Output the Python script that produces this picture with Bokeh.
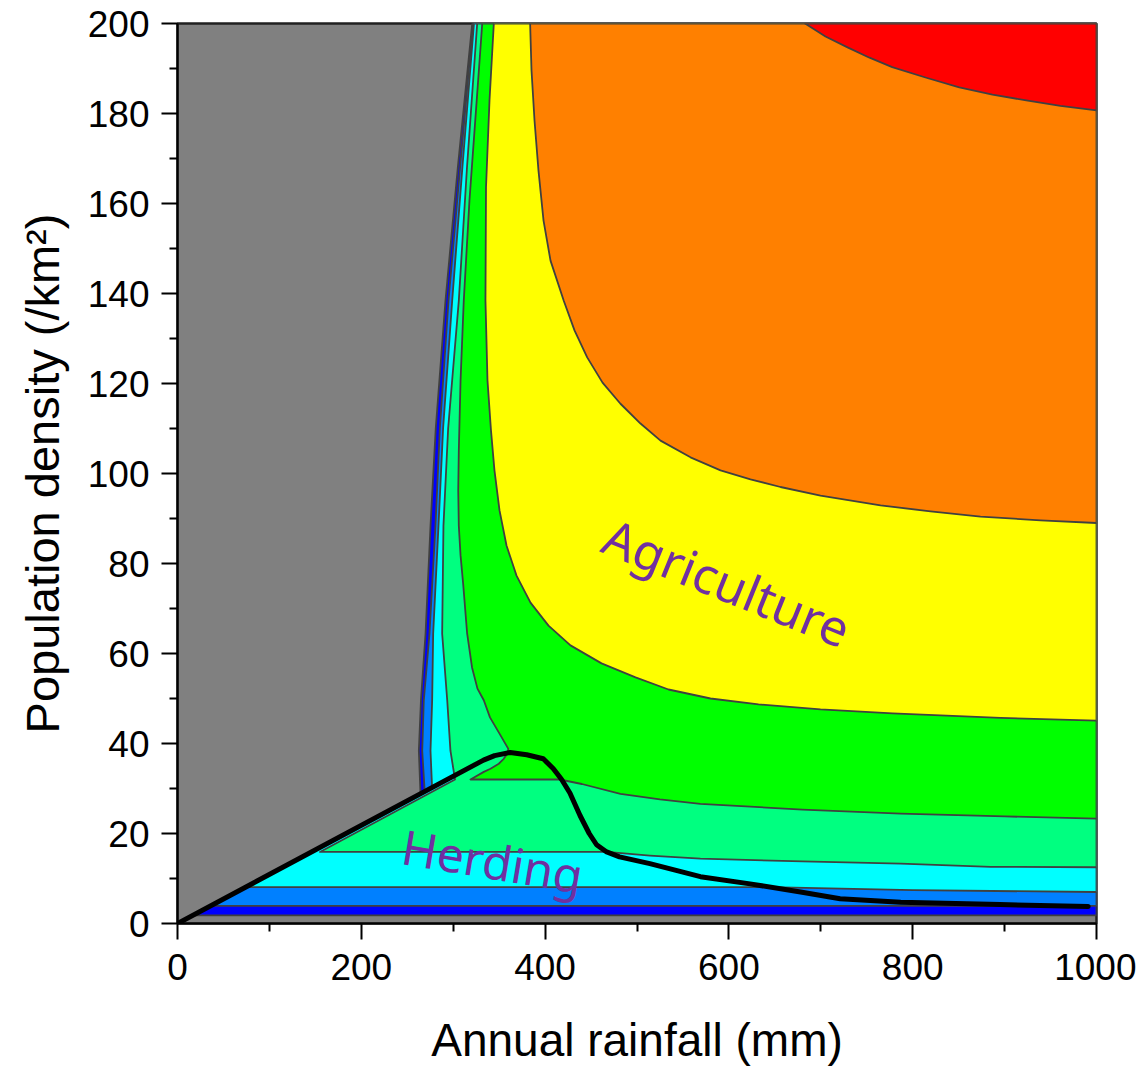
import numpy as np
from bokeh.plotting import figure
from bokeh.models import Range1d, FixedTicker
from bokeh.embed import file_html
from bokeh.resources import INLINE
from bokeh.core.properties import value

# ---- axis extents and ticks ----
X_MAX = 1000
Y_MAX = 200
x_major = [0, 200, 400, 600, 800, 1000]
x_minor = [100, 300, 500, 700, 900]
y_major = [0, 20, 40, 60, 80, 100, 120, 140, 160, 180, 200]
y_minor = [10, 30, 50, 70, 90, 110, 130, 150, 170, 190]

# ---- contour band colours (low -> high) ----
background_gray = "#808080"
band_colors = ["#0000FF", "#0080FF", "#00FFFF", "#00FF80",
               "#00FF00", "#FFFF00", "#FF8000", "#FF0000"]

# ---- lower/left boundary of each band (from top edge to right edge) ----
blue_x = [320.7, 305.0, 291.6, 281.0, 275.3, 269.9, 265.0, 262.6, 264.4, 16.5, 1000]
blue_y = [200, 168, 138.4, 110, 88.4, 64.4, 50, 38.4, 28.8, 1.8, 1.8]

azure_x = [321.5, 307.5, 294.9, 285.5, 280.7, 274.2, 268.0, 266.3, 269.0, 35.8, 1000]
azure_y = [200, 168, 138.4, 110, 88.4, 64.4, 49.6, 38.4, 29.3, 3.9, 3.9]

cyan_x = [322.6, 310.0, 298.9, 289.0, 284.0, 278.2, 277.1, 275.3, 277.0, 74.0, 645, 800, 1000]
cyan_y = [200, 168, 138.4, 110, 88.4, 64.4, 49.6, 38.4, 30.2, 8.07, 8.07, 7.4, 7.0]

mint_x = [326.1, 315.0, 306.1, 294.5, 289.4, 288.0, 293.5, 297.0, 302.0, 155.0,
          467, 514, 569, 680, 787, 885, 1000]
mint_y = [200, 168, 138.4, 110, 88.4, 64.4, 49.6, 38.4, 32.0, 15.9,
          15.9, 15.1, 14.4, 13.8, 13.3, 12.6, 12.5]

green_x = [331.6, 324.8, 317.7, 311.5, 308.0, 306.1, 305.5, 306.1, 308.0, 310.8, 315.2,
           320.5, 326.4, 333.3, 340.0, 351.5, 360.0, 358.7, 355.0, 349.6, 340.6, 333.3,
           318.8, 416, 440, 482, 525, 569, 680, 787, 900, 1000]
green_y = [200, 180.7, 160.7, 138.4, 120.7, 105.1, 96.2, 88.4, 81.8, 75.6, 64.4,
           56.9, 52.2, 49.6, 45.8, 41.8, 38.8, 37.7, 36.6, 35.5, 34.4, 33.7,
           32.0, 32.0, 31.0, 28.8, 27.6, 26.6, 25.3, 24.4, 23.8, 23.3]

yellow_x = [344.2, 339.5, 335.7, 335.1, 337.3, 341.1, 344.9, 350.4, 358.0, 368.9, 384.1,
            403.7, 427.6, 461.4, 498.4, 534.3, 580.0, 632.2, 699.7, 778.0, 895.5, 1000]
yellow_y = [200, 182.9, 163.6, 138.4, 120.7, 109.6, 100.7, 91.8, 84.0, 77.3, 71.3,
            66.2, 61.8, 57.8, 54.7, 52.0, 50.0, 48.7, 47.6, 46.7, 45.7, 45.1]

orange_x = [383.7, 385.2, 388.5, 392.8, 398.3, 405.9, 420.3, 432.0, 445.8, 462.5, 482.0,
            503.8, 525.6, 558.2, 590.9, 623.5, 656.1, 699.7, 765.0, 819.4, 873.8, 939.1, 1000]
orange_y = [200, 189.6, 178.4, 167.3, 156.2, 147.3, 138.4, 131.8, 125.8, 120.2, 115.5,
            111.1, 107.3, 103.6, 100.7, 98.7, 97.0, 95.1, 92.9, 91.6, 90.4, 89.6, 89.0]

red_x = [682.9, 705.1, 729.1, 753.0, 777.7, 813.9, 850.7, 886.8, 923.6, 960.8, 1000]
red_y = [200, 197.1, 194.7, 192.4, 190.3, 188.0, 185.8, 184.2, 182.9, 181.7, 180.7]

# ---- herding / agriculture divide (black line) ----
divide_x = [0, 333, 345, 362, 380, 398, 409, 418, 427, 438, 448, 456, 467, 481,
            514, 569, 623, 678, 721, 787, 895, 991]
divide_y = [0, 36.3, 37.3, 38.0, 37.5, 36.6, 34.4, 32.0, 29.0, 24.0, 20.0, 17.5, 15.9, 14.8,
            13.3, 10.4, 8.8, 7.0, 5.5, 4.7, 4.2, 3.8]

# ---- region labels ----
label_text = ["Agriculture", "Herding"]
label_x = [598, 343]
label_y = [75.8, 14.0]
label_angle_deg = [-22, -9.5]
label_size = ["50px", "48px"]

boundaries = [(blue_x, blue_y), (azure_x, azure_y), (cyan_x, cyan_y), (mint_x, mint_y),
              (green_x, green_y), (yellow_x, yellow_y), (orange_x, orange_y), (red_x, red_y)]

p = figure(width=1136, height=1070, output_backend="svg", toolbar_location=None,
           x_range=Range1d(0, X_MAX), y_range=Range1d(0, Y_MAX),
           min_border_left=177, min_border_right=40, min_border_top=23, min_border_bottom=147)

p.background_fill_color = background_gray
p.border_fill_color = "white"
p.outline_line_color = "#202020"
p.outline_line_width = 2.5
p.xgrid.visible = False
p.ygrid.visible = False

for (bx, by), col in zip(boundaries, band_colors):
    xs = list(bx) + [X_MAX]
    ys = list(by) + [Y_MAX]
    p.patch(xs, ys, fill_color=col, line_color="#404040", line_width=1.8, line_join="round")

p.line(divide_x, divide_y, line_color="black", line_width=5, line_join="round", line_cap="round")

for t, lx, ly, ang, sz in zip(label_text, label_x, label_y, label_angle_deg, label_size):
    p.text(x=[lx], y=[ly], text=[t], angle=np.deg2rad(ang),
           text_font=value("Noto Sans"), text_font_size=sz, text_color="#7030A0",
           text_align="center", text_baseline="middle")

for ax, major, minor in ((p.xaxis, x_major, x_minor), (p.yaxis, y_major, y_minor)):
    ax.ticker = FixedTicker(ticks=major, minor_ticks=minor)
    ax.axis_line_color = "black"
    ax.axis_line_width = 2
    ax.major_tick_line_color = "black"
    ax.major_tick_line_width = 2
    ax.minor_tick_line_color = "black"
    ax.minor_tick_line_width = 2
    ax.major_tick_in = 0
    ax.major_tick_out = 16
    ax.minor_tick_in = 0
    ax.minor_tick_out = 8
    ax.major_label_text_font = "Liberation Sans"
    ax.major_label_text_font_size = "37px"
    ax.major_label_text_color = "black"
    ax.axis_label_text_font = "Liberation Sans"
    ax.axis_label_text_font_style = "normal"
    ax.axis_label_text_color = "black"

p.xaxis.axis_label = "Annual rainfall (mm)"
p.yaxis.axis_label = "Population density (/km²)"
p.xaxis.axis_label_text_font_size = "46px"
p.yaxis.axis_label_text_font_size = "47px"
p.xaxis.major_label_standoff = 14
p.yaxis.major_label_standoff = 12
p.xaxis.axis_label_standoff = 31
p.yaxis.axis_label_standoff = 16
p.yaxis.major_label_orientation = "horizontal"

open("out.html", "w").write(file_html(p, INLINE))
